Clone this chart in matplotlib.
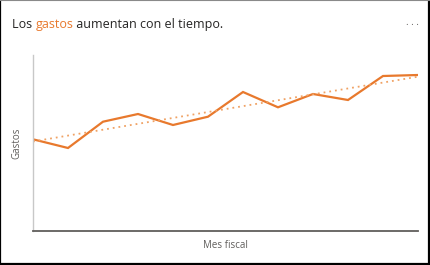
import matplotlib.pyplot as plt
import numpy as np
from matplotlib.lines import Line2D

# monthly spending (arbitrary units)
months = list(range(1, 13))
gastos = [91.7, 83, 109.3, 117, 106, 114.3, 139, 123.7, 137, 131, 155, 156]

title_parts = ["Los ", "gastos", " aumentan con el tiempo."]
orange = "#E8792D"
trend_color = "#F0A264"
gray_text = "#605E5C"

plt.rcParams['font.family'] = ['Open Sans', 'DejaVu Sans']

fig = plt.figure(figsize=(4.3, 2.65), dpi=100)
ax = fig.add_axes([33 / 430, 1 - 231 / 265, 385 / 430, 176 / 265])

ax.plot(months, gastos, color=orange, lw=1.6, solid_joinstyle='miter')

# linear trend line
slope, intercept = np.polyfit(months, gastos, 1)
trend = [slope * m + intercept for m in months]
ax.plot(months, trend, color=trend_color, lw=1.3, linestyle=(0, (1, 2.2)))

ax.set_xlim(months[0], months[-1])
ax.set_ylim(0, 176)
ax.set_xticks([])
ax.set_yticks([])
for side in ["top", "right"]:
    ax.spines[side].set_visible(False)
ax.spines["left"].set_color("#C8C8C8")
ax.spines["left"].set_linewidth(1.0)
ax.spines["bottom"].set_color("#605E5C")
ax.spines["bottom"].set_linewidth(1.3)

fig.text(225 / 430, 1 - 246 / 265, "Mes fiscal", ha="center", va="center",
         fontsize=7, color=gray_text)
fig.text(17 / 430, 1 - 143 / 265, "Gastos", ha="center", va="center",
         rotation=90, fontsize=7, color=gray_text)

# title with the word "gastos" highlighted
x = 12 / 430
y = 1 - 28 / 265
renderer = fig.canvas.get_renderer()
for i, part in enumerate(title_parts):
    t = fig.text(x, y, part, ha="left", va="baseline", fontsize=9,
                 color=orange if i == 1 else "#252423")
    bb = t.get_window_extent(renderer=renderer)
    x += bb.width / fig.bbox.width

fig.text(412 / 430, 1 - 25 / 265, ". . .", ha="center", va="baseline",
         fontsize=7, color="#605E5C")

# card border
fig.add_artist(Line2D([0.001, 0.001], [0, 1], color="black", lw=1.6, transform=fig.transFigure))
fig.add_artist(Line2D([0.997, 0.997], [0, 1], color="black", lw=1.6, transform=fig.transFigure))
fig.add_artist(Line2D([0, 1], [0.004, 0.004], color="black", lw=1.6, transform=fig.transFigure))
fig.add_artist(Line2D([0, 1], [0.999, 0.999], color="#8A8A8A", lw=0.8, transform=fig.transFigure))

fig.savefig("out.png", dpi=100)
